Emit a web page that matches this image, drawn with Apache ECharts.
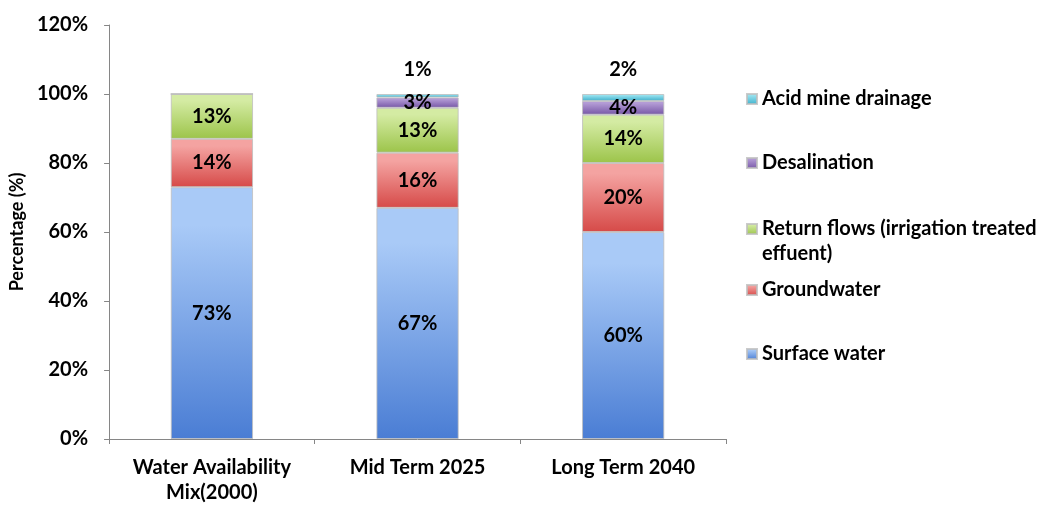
<!DOCTYPE html>
<html>
<head>
<meta charset="utf-8">
<script src="https://cdn.jsdelivr.net/npm/echarts@6/dist/echarts.min.js"></script>
<style>html,body{margin:0;padding:0;background:#fff}#c{width:1061px;height:505px}</style>
</head>
<body>
<div id="c"></div>
<script>
const categories = ['Water Availability\nMix(2000)', 'Mid Term 2025', 'Long Term 2040'];
const surfaceWater = [73, 67, 60];
const groundwater = [14, 16, 20];
const returnFlows = [13, 13, 14];
const desalination = [0, 3, 4];
const acidMineDrainage = [0, 1, 2];
const yTicks = [0, 20, 40, 60, 80, 100, 120];

const FONT = 'Lato';
const FS = 20;
function grad(top, bottom) {
  return new echarts.graphic.LinearGradient(0, 0, 0, 1, [
    {offset: 0, color: top}, {offset: 0.15, color: top}, {offset: 1, color: bottom}
  ]);
}
const labelStyle = {
  show: true, position: 'inside', fontFamily: FONT, fontWeight: 'bold', fontSize: FS, color: '#000',
  formatter: p => p.value > 0 ? p.value + '%' : ''
};
const names = {
  s: 'Surface water', g: 'Groundwater', r: 'Return flows (irrigation treated effuent)',
  d: 'Desalination', a: 'Acid mine drainage'
};
function bar(name, data, top, bottom, label) {
  return {
    name, type: 'bar', stack: 'total', data, barWidth: '40%',
    itemStyle: {color: grad(top, bottom), borderColor: 'rgba(190,190,190,0.8)', borderWidth: 1},
    label: label || labelStyle
  };
}
function legendAt(name, top, extra) {
  return Object.assign({
    data: [name], left: 746, top, orient: 'vertical', padding: 0,
    icon: 'rect', itemWidth: 10, itemHeight: 10, selectedMode: false,
    textStyle: {fontFamily: FONT, fontWeight: 'bold', fontSize: FS, color: '#000', lineHeight: 25}
  }, extra || {});
}
const chart = echarts.init(document.getElementById('c'));
chart.setOption({
  animation: false,
  backgroundColor: '#fff',
  grid: {left: 108, right: 335, top: 25, bottom: 66, containLabel: false},
  legend: [
    legendAt(names.a, 99 - 12.5),
    legendAt(names.d, 163 - 12.5),
    legendAt(names.r, 229 - 37.5, {
      formatter: n => '\nReturn flows (irrigation treated\neffuent)'
    }),
    legendAt(names.g, 290 - 12.5),
    legendAt(names.s, 354 - 12.5)
  ],
  xAxis: {
    type: 'category', data: categories,
    axisLine: {lineStyle: {color: '#868686'}},
    axisTick: {show: true, length: 5, lineStyle: {color: '#868686'}},
    axisLabel: {interval: 0, fontFamily: FONT, fontWeight: 'bold', fontSize: FS, color: '#000', margin: 16, lineHeight: 25}
  },
  yAxis: {
    type: 'value', min: yTicks[0], max: yTicks[yTicks.length - 1], interval: 20,
    name: 'Percentage (%)', nameLocation: 'middle', nameGap: 80, nameRotate: 90,
    nameTextStyle: {fontFamily: FONT, fontWeight: 'bold', fontSize: 18, color: '#000'},
    axisLine: {show: true, lineStyle: {color: '#868686'}},
    axisTick: {show: true, length: 5, lineStyle: {color: '#868686'}},
    splitLine: {show: false},
    axisLabel: {fontFamily: FONT, fontWeight: 'bold', fontSize: FS, color: '#000', margin: 21, formatter: '{value}%'}
  },
  series: [
    bar(names.s, surfaceWater, '#A9CAF7', '#4A7DD4'),
    bar(names.g, groundwater, '#F4A3A1', '#D64A48'),
    bar(names.r, returnFlows, '#D4EBA3', '#9CC44A'),
    bar(names.d, desalination, '#B49CD6', '#7656A6'),
    bar(names.a, acidMineDrainage, '#9DE4F0', '#3BB0CC',
      Object.assign({}, labelStyle, {position: 'top', distance: 14}))
  ]
});
</script>
</body>
</html>
